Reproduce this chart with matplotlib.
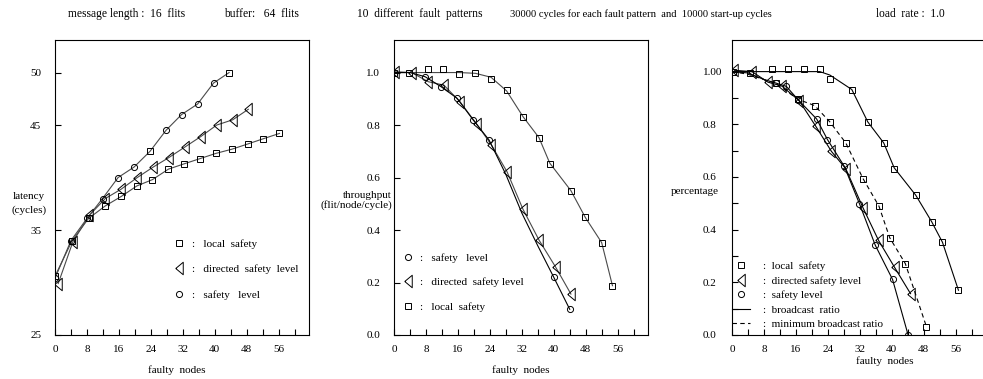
import matplotlib
matplotlib.use("Agg")
import matplotlib.pyplot as plt
from matplotlib.lines import Line2D

plt.rcParams['font.family'] = ['Liberation Serif', 'DejaVu Serif']
plt.rcParams['font.size'] = 8

# ---------------- data ----------------
# panel 1: latency
lat_ls_x = [0, 4.3, 8.4, 12.6, 16.6, 20.5, 24.4, 28.4, 32.3, 36.3, 40.3, 44.3, 48.3, 52.2, 56.2]
lat_ls_y = [30.6, 34.0, 36.1, 37.3, 38.2, 39.2, 39.8, 40.8, 41.3, 41.8, 42.3, 42.7, 43.2, 43.7, 44.2]
lat_dsl_x = [0.8, 4.5, 8.6, 12.6, 16.6, 20.6, 24.6, 28.5, 32.5, 36.5, 40.5, 44.5, 48.4]
lat_dsl_y = [29.9, 33.9, 36.4, 38.0, 38.9, 40.0, 41.0, 41.9, 42.9, 43.9, 45.0, 45.5, 46.5]
lat_sl_x = [0, 4, 8, 11.9, 15.8, 19.8, 23.8, 27.8, 31.7, 35.7, 39.7, 43.6]
lat_sl_y = [30.4, 34.0, 36.1, 38.0, 40.0, 41.0, 42.5, 44.5, 46.0, 47.0, 49.0, 50.0]
lat_sl_square_idx = [6, 11]

# panel 2: throughput
thr_ls_x = [0, 3.8, 8.4, 12.3, 16.3, 20.4, 24.3, 28.2, 32.3, 36.3, 39.0, 44.3, 47.9, 52.0, 54.7]
thr_ls_y = [1.0, 1.0, 1.012, 1.012, 0.994, 0.997, 0.974, 0.933, 0.832, 0.752, 0.651, 0.55, 0.448, 0.352, 0.188]
thr_ls_fit = [1.0, 1.0, 1.0, 1.0, 1.0, 0.997, 0.982, 0.93, 0.832, 0.752, 0.655, 0.55, 0.448, 0.352, 0.188]
thr_dsl_x = [0.3, 4.4, 8.6, 12.5, 16.5, 20.7, 24.4, 28.3, 32.3, 36.3, 40.5, 44.3]
thr_dsl_y = [1.003, 1.0, 0.965, 0.952, 0.889, 0.804, 0.724, 0.622, 0.479, 0.362, 0.258, 0.156]
thr_sl_x = [0, 4, 7.8, 11.8, 15.8, 19.8, 23.8, 28, 32, 36, 40, 44]
thr_sl_y = [1.0, 1.0, 0.984, 0.946, 0.902, 0.82, 0.743, 0.612, 0.465, 0.34, 0.22, 0.098]
thr_sl_marker_idx = [2, 3, 4, 5, 6, 10, 11]

# panel 3: percentage
pct_ls_x = [0.3, 4.5, 10, 14, 18, 22, 24.5, 30, 34, 38, 40.6, 46, 50, 52.7, 56.7]
pct_ls_y = [1.0, 0.995, 1.01, 1.01, 1.01, 1.01, 0.972, 0.932, 0.809, 0.729, 0.632, 0.531, 0.43, 0.352, 0.17]
pct_ls_fit = [1.0, 1.0, 1.0, 1.0, 1.0, 1.0, 0.987, 0.932, 0.809, 0.729, 0.635, 0.531, 0.43, 0.352, 0.17]
pct_lsmin_x = [0, 4, 8, 11, 16.5, 20.7, 24.5, 28.5, 32.8, 36.8, 39.5, 43.4, 48.7]
pct_lsmin_y = [1.0, 0.99, 0.97, 0.955, 0.895, 0.871, 0.809, 0.729, 0.594, 0.489, 0.369, 0.271, 0.031]
pct_lsmin_marker_idx = list(range(3, 13))
pct_dsl_x = [0.6, 5, 9, 12.5, 16.8, 21, 24.9, 28.5, 32.8, 36.7, 40.7, 44.7]
pct_dsl_y = [1.005, 1.0, 0.96, 0.945, 0.89, 0.792, 0.697, 0.631, 0.483, 0.359, 0.257, 0.157]
pct_sl_x = [0, 4, 8, 10.9, 13.6, 16.5, 21.2, 23.9, 28.1, 31.9, 35.9, 40.2, 44.1]
pct_sl_y = [1.0, 0.995, 0.97, 0.957, 0.944, 0.894, 0.82, 0.742, 0.641, 0.499, 0.34, 0.211, 0.0]
pct_sl_marker_idx = list(range(3, 13))

x_ticks = list(range(0, 61, 4))
x_ticklabels = [str(t) if t % 8 == 0 and t <= 56 else '' for t in x_ticks]

header = [
    (68, "message length :  16  flits", 8.3),
    (224, "buffer:   64  flits", 8.3),
    (357, "10  different  fault  patterns", 8.3),
    (510, "30000 cycles for each fault pattern  and  10000 start-up cycles", 7.6),
    (876, "load  rate :  1.0", 8.3),
]

# ---------------- styling ----------------
W, H = 983, 379
fig = plt.figure(figsize=(W / 100, H / 100), dpi=100)

def ax_at(left, top, width, height):
    return fig.add_axes([left / W, 1 - (top + height) / H, width / W, height / H])

ax1 = ax_at(55, 40, 254, 295)
ax2 = ax_at(394, 40, 254, 295)
ax3 = ax_at(732, 40, 254, 295)

LC = '#4a4a4a'
TRI = [(-0.6, 0), (0.6, -1), (0.6, 1), (-0.6, 0)]
mk_sq = dict(marker='s', markersize=4.6, markerfacecolor='none', markeredgecolor='black', markeredgewidth=0.7, linestyle='none')
mk_tri = dict(marker=TRI, markersize=9, markerfacecolor='none', markeredgecolor='black', markeredgewidth=0.7, linestyle='none')
mk_ci = dict(marker='o', markersize=4.4, markerfacecolor='none', markeredgecolor='black', markeredgewidth=0.7, linestyle='none')
line_kw = dict(color=LC, linewidth=0.8)

for ax in (ax1, ax2, ax3):
    ax.set_xlim(0, 63.6)
    ax.set_xticks(x_ticks)
    ax.set_xticklabels(x_ticklabels)
    ax.tick_params(direction='in', length=4, width=0.8, labelsize=8)
    ax.tick_params(axis='x', pad=7)
    for s in ax.spines.values():
        s.set_linewidth(0.8)

# ---- panel 1 ----
ax1.set_ylim(25, 53.1)
ax1.set_yticks([25, 35, 45, 50])
ax1.tick_params(axis='y', pad=10)
ax1.plot(lat_ls_x, lat_ls_y, **line_kw)
ax1.plot(lat_dsl_x, lat_dsl_y, **line_kw)
ax1.plot(lat_sl_x, lat_sl_y, **line_kw)
ax1.plot(lat_ls_x, lat_ls_y, **mk_sq)
ax1.plot(lat_dsl_x, lat_dsl_y, **mk_tri)
ci_idx = [i for i in range(len(lat_sl_x)) if i not in lat_sl_square_idx]
ax1.plot([lat_sl_x[i] for i in ci_idx], [lat_sl_y[i] for i in ci_idx], **mk_ci)
ax1.plot([lat_sl_x[i] for i in lat_sl_square_idx], [lat_sl_y[i] for i in lat_sl_square_idx], **mk_sq)
ax1.set_ylabel("latency\n(cycles)", rotation=0, ha='center', va='center', linespacing=1.6)
ax1.yaxis.set_label_coords(-0.102, 0.447)
ax1.set_xlabel("faulty  nodes", va='center')
ax1.xaxis.set_label_coords(0.48, -0.119)
h1 = [Line2D([], [], **mk_sq), Line2D([], [], **mk_tri), Line2D([], [], **mk_ci)]
ax1.legend(h1, [":   local  safety", ":   directed  safety  level", ":   safety   level"],
           loc='upper left', bbox_to_anchor=(0.4665, 0.325), frameon=False, borderpad=0,
           borderaxespad=0, handlelength=1.0, handletextpad=0.64, labelspacing=1.4, fontsize=8)

# ---- panel 2 ----
ax2.set_ylim(0, 1.124)
ax2.set_yticks([0, 0.2, 0.4, 0.6, 0.8, 1.0])
ax2.set_yticklabels(['0.0', '0.2', '0.4', '0.6', '0.8', '1.0'])
ax2.tick_params(axis='y', pad=10)
ax2.plot(thr_ls_x, thr_ls_fit, **line_kw)
ax2.plot(thr_dsl_x, thr_dsl_y, **line_kw)
ax2.plot(thr_sl_x, thr_sl_y, color='black', linewidth=0.8)
ax2.plot(thr_ls_x, thr_ls_y, **mk_sq)
ax2.plot(thr_dsl_x, thr_dsl_y, **mk_tri)
ax2.plot([thr_sl_x[i] for i in thr_sl_marker_idx], [thr_sl_y[i] for i in thr_sl_marker_idx], **mk_ci)
ax2.set_ylabel("throughput\n(flit/node/cycle)", rotation=0, ha='right', va='center',
               multialignment='right', linespacing=1.0)
ax2.yaxis.set_label_coords(-0.008, 0.457)
ax2.set_xlabel("faulty  nodes", va='center')
ax2.xaxis.set_label_coords(0.499, -0.119)
h2 = [Line2D([], [], **mk_ci), Line2D([], [], **mk_tri), Line2D([], [], **mk_sq)]
ax2.legend(h2, [":   safety   level", ":   directed  safety level", ":   local  safety"],
           loc='upper left', bbox_to_anchor=(0.0346, 0.277), frameon=False, borderpad=0,
           borderaxespad=0, handlelength=1.0, handletextpad=0.55, labelspacing=1.3, fontsize=8)

# ---- panel 3 ----
ax3.set_ylim(0, 1.12)
yt3 = [round(0.1 * i, 1) for i in range(11)]
ax3.set_yticks(yt3)
ax3.set_yticklabels(['0.0', '', '0.2', '', '0.4', '', '0.6', '', '0.8', '', '1.00'])
ax3.tick_params(axis='y', pad=21)
for lab in ax3.get_yticklabels():
    lab.set_horizontalalignment('left')
ax3.plot(pct_ls_x, pct_ls_fit, color='black', linewidth=0.8)
ax3.plot(pct_lsmin_x, pct_lsmin_y, color='black', linewidth=0.8, linestyle=(0, (4, 3)))
ax3.plot(pct_dsl_x, pct_dsl_y, color='black', linewidth=0.8)
ax3.plot(pct_sl_x, pct_sl_y, color='black', linewidth=0.8)
ax3.plot(pct_ls_x, pct_ls_y, **mk_sq)
ax3.plot([pct_lsmin_x[i] for i in pct_lsmin_marker_idx], [pct_lsmin_y[i] for i in pct_lsmin_marker_idx], **mk_sq)
ax3.plot(pct_dsl_x, pct_dsl_y, **mk_tri)
ax3.plot([pct_sl_x[i] for i in pct_sl_marker_idx], [pct_sl_y[i] for i in pct_sl_marker_idx], **mk_ci)
ax3.set_ylabel("percentage", rotation=0, ha='center', va='center')
ax3.yaxis.set_label_coords(-0.146, 0.488)
ax3.set_xlabel("faulty  nodes", va='center')
ax3.xaxis.set_label_coords(0.602, -0.088)
h3 = [Line2D([], [], **mk_sq), Line2D([], [], **mk_tri), Line2D([], [], **mk_ci),
      Line2D([], [], color='black', linewidth=0.8),
      Line2D([], [], color='black', linewidth=0.8, linestyle=(0, (4, 3)))]
ax3.legend(h3, [":  local  safety", ":  directed safety level", ":  safety level",
                ":  broadcast  ratio", ":  minimum broadcast ratio"],
           loc='upper left', bbox_to_anchor=(0.0, 0.25), frameon=False, borderpad=0,
           borderaxespad=0, handlelength=1.62, handletextpad=1.2, labelspacing=0.43, fontsize=8)

for x, t, fs in header:
    fig.text(x / W, 1 - 14 / H, t, fontsize=fs, ha='left', va='center')

fig.savefig("out.png", dpi=100)
